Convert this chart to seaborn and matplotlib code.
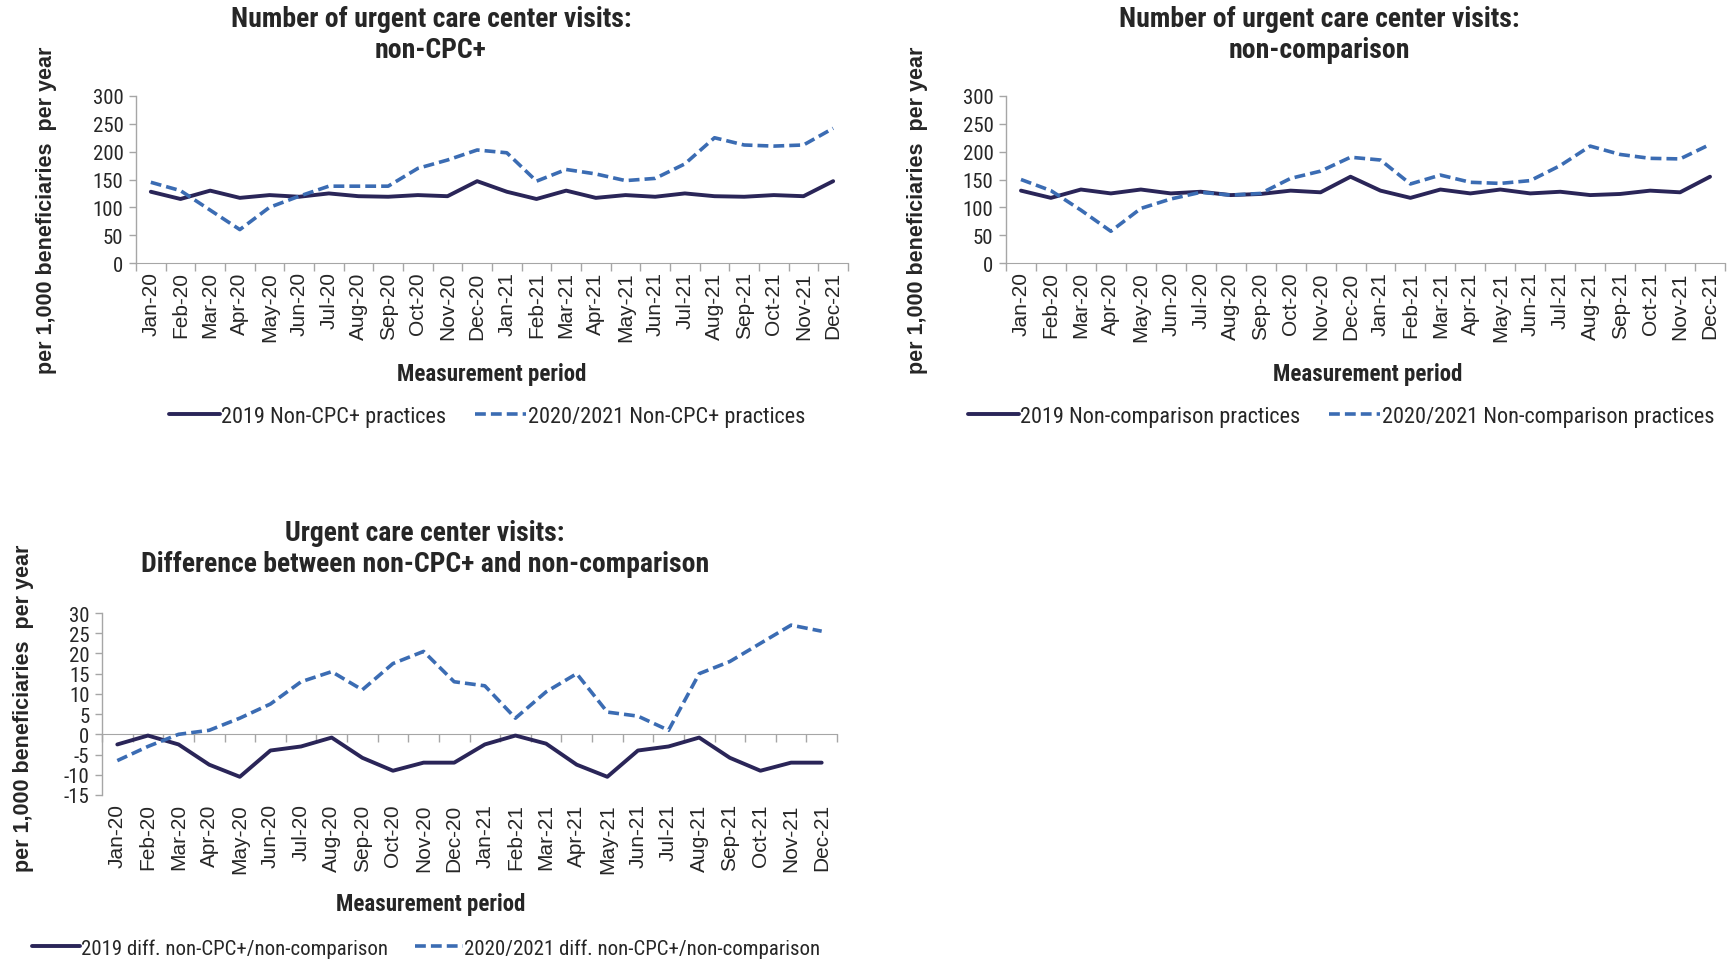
import numpy as np
import matplotlib
matplotlib.use("Agg")
import matplotlib.pyplot as plt
import seaborn as sns

# Data
months = ["Jan-20", "Feb-20", "Mar-20", "Apr-20", "May-20", "Jun-20",
          "Jul-20", "Aug-20", "Sep-20", "Oct-20", "Nov-20", "Dec-20",
          "Jan-21", "Feb-21", "Mar-21", "Apr-21", "May-21", "Jun-21",
          "Jul-21", "Aug-21", "Sep-21", "Oct-21", "Nov-21", "Dec-21"]

cpc_2019 = [128, 115, 130, 117, 122, 119, 125, 120, 119, 122, 120, 147,
            128, 115, 130, 117, 122, 119, 125, 120, 119, 122, 120, 147]
cpc_2020 = [145, 130, 95, 60, 100, 120, 138, 138, 138, 170, 185, 203,
            198, 147, 168, 160, 148, 152, 178, 225, 212, 210, 212, 242]

comp_2019 = [130, 117, 132, 125, 132, 125, 128, 122, 124, 130, 127, 155,
             130, 117, 132, 125, 132, 125, 128, 122, 124, 130, 127, 155]
comp_2020 = [150, 130, 95, 57, 98, 115, 127, 122, 125, 152, 165, 190,
             185, 142, 158, 145, 143, 148, 175, 210, 195, 188, 187, 213]

diff_2019 = [-2.5, -0.3, -2.5, -7.5, -10.5, -4, -3, -0.8, -5.8, -9, -7, -7,
             -2.5, -0.3, -2.3, -7.5, -10.5, -4, -3, -0.8, -5.8, -9, -7, -7]
diff_2020 = [-6.5, -3, 0, 1, 4, 7.5, 13, 15.5, 11, 17.5, 20.5, 13,
             12, 4, 10.5, 15, 5.5, 4.5, 1, 15, 18, 22.5, 27, 25.5]

sns.set_style("white")
NARROW = ["Roboto Condensed", "Archivo Narrow", "Liberation Sans", "DejaVu Sans"]
WIDE = ["Liberation Sans", "DejaVu Sans"]
plt.rcParams["font.family"] = NARROW

DARK = "#2a2558"
BLUE = "#3b6cb3"
GRID = "#a6a6a6"
DASH = [3.0, 1.4]

fig = plt.figure(figsize=(17.34, 9.62), dpi=100)


def draw_panel(rect, s19, s20, lab19, lab20, ylim, yticks, cross_zero=False):
    ax = fig.add_axes(rect)
    x = np.arange(len(months))
    sns.lineplot(x=x, y=s19, ax=ax, color=DARK, linewidth=2.8,
                 label=lab19, legend=False)
    sns.lineplot(x=x, y=s20, ax=ax, color=BLUE, linewidth=2.6,
                 label=lab20, legend=False)
    ax.lines[1].set_dashes(DASH)
    ax.set_xlim(-0.5, len(months) - 0.5)
    ax.set_ylim(*ylim)
    ax.set_yticks(yticks)
    ax.set_yticklabels([str(v) for v in yticks], fontsize=15, family=NARROW)
    ax.set_xticks(x)
    ax.set_xticklabels(months, rotation=90, fontsize=15, family=WIDE)
    ax.tick_params(axis="x", length=0, pad=6)
    ax.tick_params(axis="y", length=5, width=1, color=GRID, left=True, pad=4)
    for side in ["top", "right"]:
        ax.spines[side].set_visible(False)
    ax.spines["left"].set_color(GRID)
    ax.spines["left"].set_linewidth(1)
    bounds = np.arange(len(months) + 1) - 0.5
    if cross_zero:
        # category axis crosses at zero, labels stay at the bottom
        ax.spines["bottom"].set_visible(False)
        sec = ax.secondary_xaxis(0, transform=ax.transData)
        sec.set_xticks(bounds)
        sec.set_xticklabels([])
        sec.tick_params(length=6, width=1, color=GRID)
        sec.spines["bottom"].set_color(GRID)
    else:
        ax.spines["bottom"].set_color(GRID)
        ax.set_xticks(bounds, minor=True)
        ax.tick_params(axis="x", which="minor", length=6, width=1,
                       color=GRID, bottom=True)
    ax.set_xlabel("")
    ax.set_ylabel("")
    return ax


W, H = 1734.0, 962.0


def rect(left, top, right, bottom):
    return [left / W, 1 - bottom / H, (right - left) / W, (bottom - top) / H]


ax1 = draw_panel(rect(136, 97, 848, 264), cpc_2019, cpc_2020,
                 "2019 Non-CPC+ practices", "2020/2021 Non-CPC+ practices",
                 (0, 300), list(range(0, 301, 50)))
ax2 = draw_panel(rect(1006, 97, 1725, 264), comp_2019, comp_2020,
                 "2019 Non-comparison practices",
                 "2020/2021 Non-comparison practices",
                 (0, 300), list(range(0, 301, 50)))
ax3 = draw_panel(rect(102, 614, 837, 796), diff_2019, diff_2020,
                 "2019 diff. non-CPC+/non-comparison",
                 "2020/2021 diff. non-CPC+/non-comparison",
                 (-15, 30), list(range(-15, 31, 5)), cross_zero=True)

# Titles
title_kw = dict(ha="center", va="center", fontsize=20, fontweight="bold",
                family=NARROW, linespacing=1.2)
fig.text(431 / W, 1 - 35 / H, "Number of urgent care center visits:\nnon-CPC+",
         **title_kw)
fig.text(1319 / W, 1 - 35 / H,
         "Number of urgent care center visits:\nnon-comparison", **title_kw)
fig.text(425 / W, 1 - 549 / H,
         "Urgent care center visits:\nDifference between non-CPC+ and non-comparison",
         **title_kw)

# Axis labels
ylab = "per 1,000 beneficiaries  per year"
ylab_kw = dict(ha="center", va="center", rotation=90, fontsize=15.5,
               fontweight="bold", family=WIDE)
fig.text(47 / W, 1 - 210 / H, ylab, **ylab_kw)
fig.text(917 / W, 1 - 210 / H, ylab, **ylab_kw)
fig.text(24 / W, 1 - 708 / H, ylab, **ylab_kw)

xlab_kw = dict(ha="center", va="center", fontsize=16.5, fontweight="bold",
               family=NARROW)
fig.text(492 / W, 1 - 375 / H, "Measurement period", **xlab_kw)
fig.text(1368 / W, 1 - 375 / H, "Measurement period", **xlab_kw)
fig.text(431 / W, 1 - 905 / H, "Measurement period", **xlab_kw)

# Legends
for ax, cx, cy, fs in [(ax1, 487, 417, 16), (ax2, 1341, 417, 16),
                       (ax3, 426, 949, 15)]:
    handles, labels = ax.get_legend_handles_labels()
    leg = fig.legend(handles, labels, loc="center",
                     bbox_to_anchor=(cx / W, 1 - cy / H), ncol=2, frameon=False,
                     fontsize=fs, handlelength=2.3, handletextpad=0.05,
                     columnspacing=1.3, borderaxespad=0)
    leg.legend_handles[1].set_dashes(DASH)

fig.savefig("out.png", dpi=100)
